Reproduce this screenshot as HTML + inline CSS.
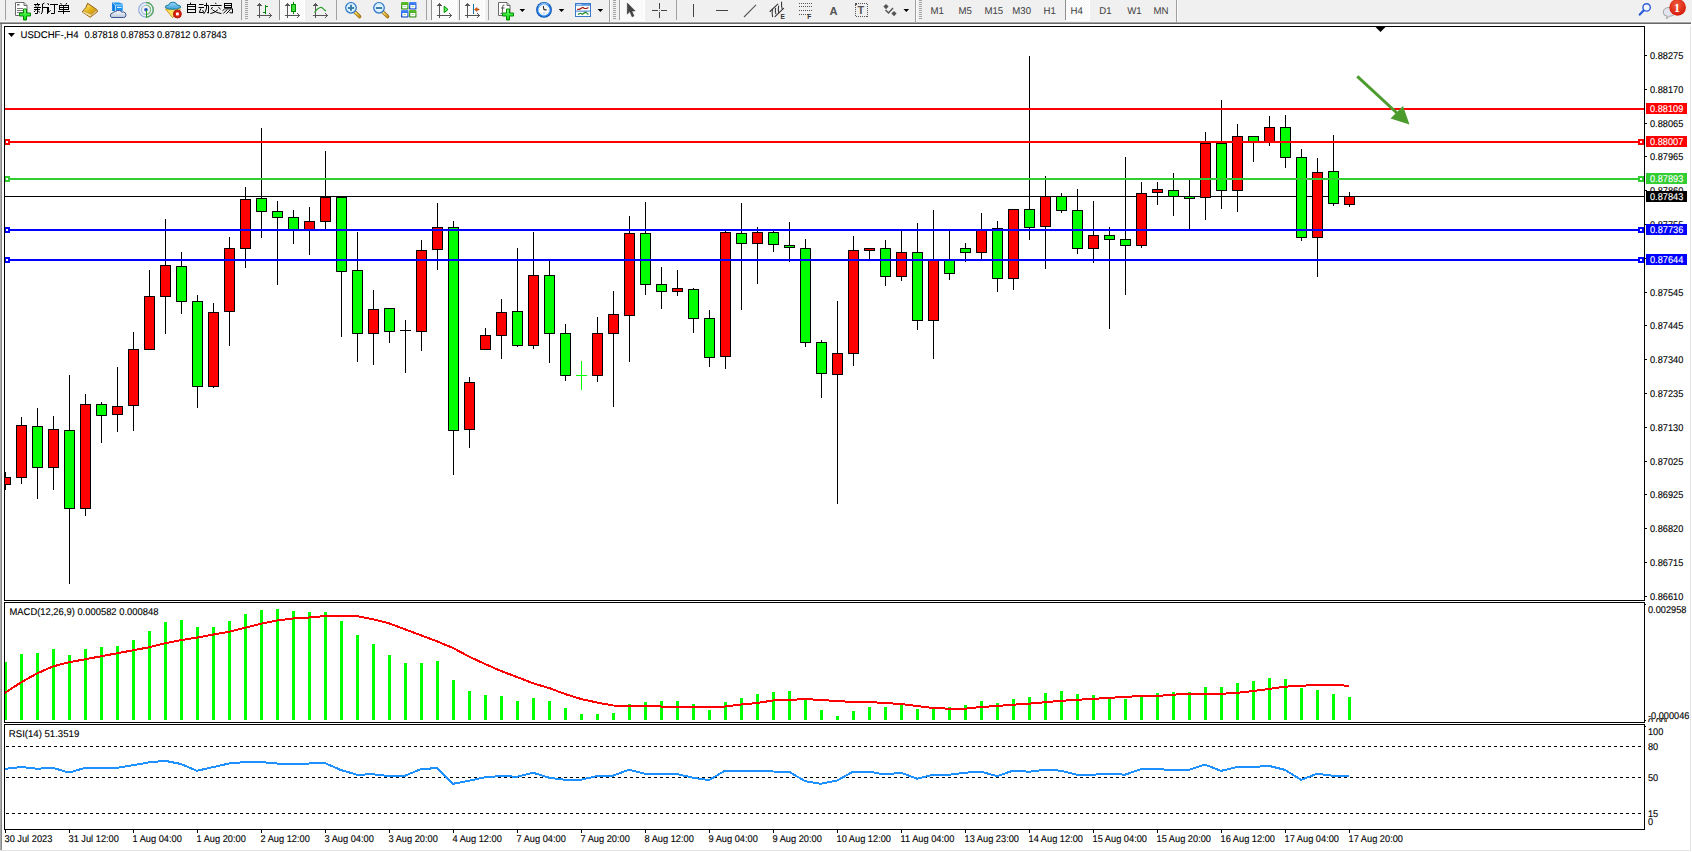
<!DOCTYPE html>
<html><head><meta charset="utf-8"><title>USDCHF H4</title>
<style>
html,body{margin:0;padding:0;}
body{width:1692px;height:852px;overflow:hidden;background:#fff;position:relative;font-family:"Liberation Sans",sans-serif;}
svg{position:absolute;left:0;top:0;display:block;}
.t{font-family:"Liberation Sans",sans-serif;stroke-width:0.12px;text-rendering:geometricPrecision;}
</style></head><body>

<svg width="1692" height="852" viewBox="0 0 1692 852">
<defs>
<clipPath id="cpMain"><rect x="5" y="27" width="1639" height="573"/></clipPath>
<clipPath id="cpMacd"><rect x="5" y="603" width="1639" height="119"/></clipPath>
<clipPath id="cpRsi"><rect x="5" y="725" width="1639" height="104"/></clipPath>
</defs>
<g shape-rendering="crispEdges">
<rect x="0" y="0" width="1692" height="852" fill="#ffffff"/>
<rect x="0" y="22" width="1" height="829" fill="#ababab"/>
<rect x="1" y="22" width="1" height="829" fill="#878787"/>
<rect x="0" y="850" width="1691" height="1" fill="#e3e3e3"/>
<rect x="1690" y="24" width="1" height="827" fill="#e3e3e3"/>
<rect x="4.5" y="26.5" width="1640" height="574" fill="none" stroke="#000" stroke-width="1"/>
<rect x="4.5" y="602.5" width="1640" height="120" fill="none" stroke="#000" stroke-width="1"/>
<rect x="4.5" y="724.5" width="1640" height="105" fill="none" stroke="#000" stroke-width="1"/>
</g>
<g clip-path="url(#cpMain)" shape-rendering="crispEdges">
<rect x="5" y="196" width="1639" height="1" fill="#000"/>
<rect x="5" y="472" width="1" height="18" fill="#000"/>
<rect x="0" y="477" width="11" height="8" fill="#000"/>
<rect x="1" y="478" width="9" height="6" fill="#ff0000"/>
<rect x="21" y="417" width="1" height="67" fill="#000"/>
<rect x="16" y="425" width="11" height="53" fill="#000"/>
<rect x="17" y="426" width="9" height="51" fill="#ff0000"/>
<rect x="37" y="408" width="1" height="91" fill="#000"/>
<rect x="32" y="426" width="11" height="42" fill="#000"/>
<rect x="33" y="427" width="9" height="40" fill="#00ff00"/>
<rect x="53" y="416" width="1" height="74" fill="#000"/>
<rect x="48" y="429" width="11" height="39" fill="#000"/>
<rect x="49" y="430" width="9" height="37" fill="#ff0000"/>
<rect x="69" y="375" width="1" height="209" fill="#000"/>
<rect x="64" y="430" width="11" height="79" fill="#000"/>
<rect x="65" y="431" width="9" height="77" fill="#00ff00"/>
<rect x="85" y="394" width="1" height="122" fill="#000"/>
<rect x="80" y="404" width="11" height="105" fill="#000"/>
<rect x="81" y="405" width="9" height="103" fill="#ff0000"/>
<rect x="101" y="402" width="1" height="41" fill="#000"/>
<rect x="96" y="404" width="11" height="12" fill="#000"/>
<rect x="97" y="405" width="9" height="10" fill="#00ff00"/>
<rect x="117" y="367" width="1" height="65" fill="#000"/>
<rect x="112" y="406" width="11" height="9" fill="#000"/>
<rect x="113" y="407" width="9" height="7" fill="#ff0000"/>
<rect x="133" y="332" width="1" height="99" fill="#000"/>
<rect x="128" y="349" width="11" height="57" fill="#000"/>
<rect x="129" y="350" width="9" height="55" fill="#ff0000"/>
<rect x="149" y="270" width="1" height="80" fill="#000"/>
<rect x="144" y="296" width="11" height="54" fill="#000"/>
<rect x="145" y="297" width="9" height="52" fill="#ff0000"/>
<rect x="165" y="219" width="1" height="115" fill="#000"/>
<rect x="160" y="265" width="11" height="32" fill="#000"/>
<rect x="161" y="266" width="9" height="30" fill="#ff0000"/>
<rect x="181" y="252" width="1" height="62" fill="#000"/>
<rect x="176" y="266" width="11" height="36" fill="#000"/>
<rect x="177" y="267" width="9" height="34" fill="#00ff00"/>
<rect x="197" y="295" width="1" height="113" fill="#000"/>
<rect x="192" y="301" width="11" height="86" fill="#000"/>
<rect x="193" y="302" width="9" height="84" fill="#00ff00"/>
<rect x="213" y="303" width="1" height="85" fill="#000"/>
<rect x="208" y="312" width="11" height="75" fill="#000"/>
<rect x="209" y="313" width="9" height="73" fill="#ff0000"/>
<rect x="229" y="237" width="1" height="109" fill="#000"/>
<rect x="224" y="248" width="11" height="64" fill="#000"/>
<rect x="225" y="249" width="9" height="62" fill="#ff0000"/>
<rect x="245" y="187" width="1" height="81" fill="#000"/>
<rect x="240" y="199" width="11" height="50" fill="#000"/>
<rect x="241" y="200" width="9" height="48" fill="#ff0000"/>
<rect x="261" y="128" width="1" height="110" fill="#000"/>
<rect x="256" y="198" width="11" height="14" fill="#000"/>
<rect x="257" y="199" width="9" height="12" fill="#00ff00"/>
<rect x="277" y="201" width="1" height="84" fill="#000"/>
<rect x="272" y="211" width="11" height="7" fill="#000"/>
<rect x="273" y="212" width="9" height="5" fill="#00ff00"/>
<rect x="293" y="210" width="1" height="34" fill="#000"/>
<rect x="288" y="217" width="11" height="13" fill="#000"/>
<rect x="289" y="218" width="9" height="11" fill="#00ff00"/>
<rect x="309" y="207" width="1" height="48" fill="#000"/>
<rect x="304" y="221" width="11" height="9" fill="#000"/>
<rect x="305" y="222" width="9" height="7" fill="#ff0000"/>
<rect x="325" y="151" width="1" height="78" fill="#000"/>
<rect x="320" y="197" width="11" height="25" fill="#000"/>
<rect x="321" y="198" width="9" height="23" fill="#ff0000"/>
<rect x="341" y="196" width="1" height="141" fill="#000"/>
<rect x="336" y="197" width="11" height="75" fill="#000"/>
<rect x="337" y="198" width="9" height="73" fill="#00ff00"/>
<rect x="357" y="232" width="1" height="130" fill="#000"/>
<rect x="352" y="270" width="11" height="64" fill="#000"/>
<rect x="353" y="271" width="9" height="62" fill="#00ff00"/>
<rect x="373" y="290" width="1" height="75" fill="#000"/>
<rect x="368" y="309" width="11" height="25" fill="#000"/>
<rect x="369" y="310" width="9" height="23" fill="#ff0000"/>
<rect x="389" y="308" width="1" height="35" fill="#000"/>
<rect x="384" y="308" width="11" height="24" fill="#000"/>
<rect x="385" y="309" width="9" height="22" fill="#00ff00"/>
<rect x="405" y="320" width="1" height="53" fill="#000"/>
<rect x="400" y="330" width="11" height="1" fill="#000"/>
<rect x="421" y="240" width="1" height="111" fill="#000"/>
<rect x="416" y="250" width="11" height="82" fill="#000"/>
<rect x="417" y="251" width="9" height="80" fill="#ff0000"/>
<rect x="437" y="203" width="1" height="67" fill="#000"/>
<rect x="432" y="227" width="11" height="23" fill="#000"/>
<rect x="433" y="228" width="9" height="21" fill="#ff0000"/>
<rect x="453" y="221" width="1" height="254" fill="#000"/>
<rect x="448" y="227" width="11" height="204" fill="#000"/>
<rect x="449" y="228" width="9" height="202" fill="#00ff00"/>
<rect x="469" y="377" width="1" height="71" fill="#000"/>
<rect x="464" y="382" width="11" height="48" fill="#000"/>
<rect x="465" y="383" width="9" height="46" fill="#ff0000"/>
<rect x="485" y="328" width="1" height="22" fill="#000"/>
<rect x="480" y="335" width="11" height="15" fill="#000"/>
<rect x="481" y="336" width="9" height="13" fill="#ff0000"/>
<rect x="501" y="299" width="1" height="60" fill="#000"/>
<rect x="496" y="312" width="11" height="24" fill="#000"/>
<rect x="497" y="313" width="9" height="22" fill="#ff0000"/>
<rect x="517" y="248" width="1" height="99" fill="#000"/>
<rect x="512" y="311" width="11" height="35" fill="#000"/>
<rect x="513" y="312" width="9" height="33" fill="#00ff00"/>
<rect x="533" y="232" width="1" height="117" fill="#000"/>
<rect x="528" y="275" width="11" height="71" fill="#000"/>
<rect x="529" y="276" width="9" height="69" fill="#ff0000"/>
<rect x="549" y="261" width="1" height="102" fill="#000"/>
<rect x="544" y="275" width="11" height="59" fill="#000"/>
<rect x="545" y="276" width="9" height="57" fill="#00ff00"/>
<rect x="565" y="324" width="1" height="57" fill="#000"/>
<rect x="560" y="333" width="11" height="43" fill="#000"/>
<rect x="561" y="334" width="9" height="41" fill="#00ff00"/>
<rect x="581" y="361" width="1" height="29" fill="#000"/>
<rect x="581" y="361" width="1" height="29" fill="#00ff00"/>
<rect x="576" y="375" width="11" height="1" fill="#00ff00"/>
<rect x="597" y="317" width="1" height="65" fill="#000"/>
<rect x="592" y="333" width="11" height="43" fill="#000"/>
<rect x="593" y="334" width="9" height="41" fill="#ff0000"/>
<rect x="613" y="291" width="1" height="116" fill="#000"/>
<rect x="608" y="314" width="11" height="20" fill="#000"/>
<rect x="609" y="315" width="9" height="18" fill="#ff0000"/>
<rect x="629" y="216" width="1" height="146" fill="#000"/>
<rect x="624" y="233" width="11" height="83" fill="#000"/>
<rect x="625" y="234" width="9" height="81" fill="#ff0000"/>
<rect x="645" y="202" width="1" height="93" fill="#000"/>
<rect x="640" y="233" width="11" height="52" fill="#000"/>
<rect x="641" y="234" width="9" height="50" fill="#00ff00"/>
<rect x="661" y="267" width="1" height="42" fill="#000"/>
<rect x="656" y="284" width="11" height="8" fill="#000"/>
<rect x="657" y="285" width="9" height="6" fill="#00ff00"/>
<rect x="677" y="270" width="1" height="26" fill="#000"/>
<rect x="672" y="288" width="11" height="4" fill="#000"/>
<rect x="673" y="289" width="9" height="2" fill="#ff0000"/>
<rect x="693" y="288" width="1" height="45" fill="#000"/>
<rect x="688" y="289" width="11" height="30" fill="#000"/>
<rect x="689" y="290" width="9" height="28" fill="#00ff00"/>
<rect x="709" y="310" width="1" height="57" fill="#000"/>
<rect x="704" y="318" width="11" height="40" fill="#000"/>
<rect x="705" y="319" width="9" height="38" fill="#00ff00"/>
<rect x="725" y="231" width="1" height="138" fill="#000"/>
<rect x="720" y="232" width="11" height="125" fill="#000"/>
<rect x="721" y="233" width="9" height="123" fill="#ff0000"/>
<rect x="741" y="203" width="1" height="107" fill="#000"/>
<rect x="736" y="233" width="11" height="11" fill="#000"/>
<rect x="737" y="234" width="9" height="9" fill="#00ff00"/>
<rect x="757" y="227" width="1" height="57" fill="#000"/>
<rect x="752" y="232" width="11" height="12" fill="#000"/>
<rect x="753" y="233" width="9" height="10" fill="#ff0000"/>
<rect x="773" y="231" width="1" height="21" fill="#000"/>
<rect x="768" y="232" width="11" height="13" fill="#000"/>
<rect x="769" y="233" width="9" height="11" fill="#00ff00"/>
<rect x="789" y="222" width="1" height="40" fill="#000"/>
<rect x="784" y="245" width="11" height="3" fill="#000"/>
<rect x="785" y="246" width="9" height="1" fill="#00ff00"/>
<rect x="805" y="239" width="1" height="108" fill="#000"/>
<rect x="800" y="248" width="11" height="95" fill="#000"/>
<rect x="801" y="249" width="9" height="93" fill="#00ff00"/>
<rect x="821" y="340" width="1" height="58" fill="#000"/>
<rect x="816" y="342" width="11" height="32" fill="#000"/>
<rect x="817" y="343" width="9" height="30" fill="#00ff00"/>
<rect x="837" y="301" width="1" height="203" fill="#000"/>
<rect x="832" y="353" width="11" height="22" fill="#000"/>
<rect x="833" y="354" width="9" height="20" fill="#ff0000"/>
<rect x="853" y="236" width="1" height="130" fill="#000"/>
<rect x="848" y="250" width="11" height="104" fill="#000"/>
<rect x="849" y="251" width="9" height="102" fill="#ff0000"/>
<rect x="869" y="248" width="1" height="11" fill="#000"/>
<rect x="864" y="248" width="11" height="3" fill="#000"/>
<rect x="865" y="249" width="9" height="1" fill="#ff0000"/>
<rect x="885" y="240" width="1" height="46" fill="#000"/>
<rect x="880" y="248" width="11" height="29" fill="#000"/>
<rect x="881" y="249" width="9" height="27" fill="#00ff00"/>
<rect x="901" y="231" width="1" height="50" fill="#000"/>
<rect x="896" y="252" width="11" height="25" fill="#000"/>
<rect x="897" y="253" width="9" height="23" fill="#ff0000"/>
<rect x="917" y="223" width="1" height="107" fill="#000"/>
<rect x="912" y="252" width="11" height="69" fill="#000"/>
<rect x="913" y="253" width="9" height="67" fill="#00ff00"/>
<rect x="933" y="210" width="1" height="149" fill="#000"/>
<rect x="928" y="260" width="11" height="61" fill="#000"/>
<rect x="929" y="261" width="9" height="59" fill="#ff0000"/>
<rect x="949" y="231" width="1" height="49" fill="#000"/>
<rect x="944" y="260" width="11" height="14" fill="#000"/>
<rect x="945" y="261" width="9" height="12" fill="#00ff00"/>
<rect x="965" y="243" width="1" height="19" fill="#000"/>
<rect x="960" y="248" width="11" height="5" fill="#000"/>
<rect x="961" y="249" width="9" height="3" fill="#00ff00"/>
<rect x="981" y="213" width="1" height="46" fill="#000"/>
<rect x="976" y="230" width="11" height="23" fill="#000"/>
<rect x="977" y="231" width="9" height="21" fill="#ff0000"/>
<rect x="997" y="221" width="1" height="71" fill="#000"/>
<rect x="992" y="228" width="11" height="51" fill="#000"/>
<rect x="993" y="229" width="9" height="49" fill="#00ff00"/>
<rect x="1013" y="209" width="1" height="81" fill="#000"/>
<rect x="1008" y="209" width="11" height="70" fill="#000"/>
<rect x="1009" y="210" width="9" height="68" fill="#ff0000"/>
<rect x="1029" y="56" width="1" height="184" fill="#000"/>
<rect x="1024" y="209" width="11" height="19" fill="#000"/>
<rect x="1025" y="210" width="9" height="17" fill="#00ff00"/>
<rect x="1045" y="176" width="1" height="93" fill="#000"/>
<rect x="1040" y="196" width="11" height="31" fill="#000"/>
<rect x="1041" y="197" width="9" height="29" fill="#ff0000"/>
<rect x="1061" y="193" width="1" height="20" fill="#000"/>
<rect x="1056" y="196" width="11" height="15" fill="#000"/>
<rect x="1057" y="197" width="9" height="13" fill="#00ff00"/>
<rect x="1077" y="189" width="1" height="65" fill="#000"/>
<rect x="1072" y="210" width="11" height="39" fill="#000"/>
<rect x="1073" y="211" width="9" height="37" fill="#00ff00"/>
<rect x="1093" y="201" width="1" height="62" fill="#000"/>
<rect x="1088" y="235" width="11" height="14" fill="#000"/>
<rect x="1089" y="236" width="9" height="12" fill="#ff0000"/>
<rect x="1109" y="227" width="1" height="102" fill="#000"/>
<rect x="1104" y="235" width="11" height="5" fill="#000"/>
<rect x="1105" y="236" width="9" height="3" fill="#00ff00"/>
<rect x="1125" y="157" width="1" height="138" fill="#000"/>
<rect x="1120" y="239" width="11" height="7" fill="#000"/>
<rect x="1121" y="240" width="9" height="5" fill="#00ff00"/>
<rect x="1141" y="182" width="1" height="66" fill="#000"/>
<rect x="1136" y="193" width="11" height="53" fill="#000"/>
<rect x="1137" y="194" width="9" height="51" fill="#ff0000"/>
<rect x="1157" y="182" width="1" height="23" fill="#000"/>
<rect x="1152" y="189" width="11" height="4" fill="#000"/>
<rect x="1153" y="190" width="9" height="2" fill="#ff0000"/>
<rect x="1173" y="173" width="1" height="43" fill="#000"/>
<rect x="1168" y="190" width="11" height="7" fill="#000"/>
<rect x="1169" y="191" width="9" height="5" fill="#00ff00"/>
<rect x="1189" y="180" width="1" height="49" fill="#000"/>
<rect x="1184" y="196" width="11" height="3" fill="#000"/>
<rect x="1185" y="197" width="9" height="1" fill="#00ff00"/>
<rect x="1205" y="132" width="1" height="88" fill="#000"/>
<rect x="1200" y="143" width="11" height="55" fill="#000"/>
<rect x="1201" y="144" width="9" height="53" fill="#ff0000"/>
<rect x="1221" y="100" width="1" height="109" fill="#000"/>
<rect x="1216" y="143" width="11" height="48" fill="#000"/>
<rect x="1217" y="144" width="9" height="46" fill="#00ff00"/>
<rect x="1237" y="124" width="1" height="88" fill="#000"/>
<rect x="1232" y="136" width="11" height="55" fill="#000"/>
<rect x="1233" y="137" width="9" height="53" fill="#ff0000"/>
<rect x="1253" y="136" width="1" height="26" fill="#000"/>
<rect x="1248" y="136" width="11" height="6" fill="#000"/>
<rect x="1249" y="137" width="9" height="4" fill="#00ff00"/>
<rect x="1269" y="116" width="1" height="30" fill="#000"/>
<rect x="1264" y="127" width="11" height="15" fill="#000"/>
<rect x="1265" y="128" width="9" height="13" fill="#ff0000"/>
<rect x="1285" y="115" width="1" height="53" fill="#000"/>
<rect x="1280" y="127" width="11" height="31" fill="#000"/>
<rect x="1281" y="128" width="9" height="29" fill="#00ff00"/>
<rect x="1301" y="149" width="1" height="92" fill="#000"/>
<rect x="1296" y="157" width="11" height="81" fill="#000"/>
<rect x="1297" y="158" width="9" height="79" fill="#00ff00"/>
<rect x="1317" y="158" width="1" height="119" fill="#000"/>
<rect x="1312" y="172" width="11" height="66" fill="#000"/>
<rect x="1313" y="173" width="9" height="64" fill="#ff0000"/>
<rect x="1333" y="135" width="1" height="71" fill="#000"/>
<rect x="1328" y="171" width="11" height="33" fill="#000"/>
<rect x="1329" y="172" width="9" height="31" fill="#00ff00"/>
<rect x="1349" y="192" width="1" height="15" fill="#000"/>
<rect x="1344" y="196" width="11" height="9" fill="#000"/>
<rect x="1345" y="197" width="9" height="7" fill="#ff0000"/>
<rect x="5" y="108" width="1639" height="2" fill="#ff0000"/>
<rect x="5" y="141" width="1639" height="2" fill="#ff0000"/>
<rect x="4" y="139" width="6" height="6" fill="#ff0000"/>
<rect x="6" y="141" width="2" height="2" fill="#fff"/>
<rect x="1638" y="139" width="6" height="6" fill="#ff0000"/>
<rect x="1640" y="141" width="2" height="2" fill="#fff"/>
<rect x="5" y="178" width="1639" height="2" fill="#32cd32"/>
<rect x="4" y="176" width="6" height="6" fill="#32cd32"/>
<rect x="6" y="178" width="2" height="2" fill="#fff"/>
<rect x="1638" y="176" width="6" height="6" fill="#32cd32"/>
<rect x="1640" y="178" width="2" height="2" fill="#fff"/>
<rect x="5" y="229" width="1639" height="2" fill="#0000ff"/>
<rect x="4" y="227" width="6" height="6" fill="#0000ff"/>
<rect x="6" y="229" width="2" height="2" fill="#fff"/>
<rect x="1638" y="227" width="6" height="6" fill="#0000ff"/>
<rect x="1640" y="229" width="2" height="2" fill="#fff"/>
<rect x="5" y="259" width="1639" height="2" fill="#0000ff"/>
<rect x="4" y="257" width="6" height="6" fill="#0000ff"/>
<rect x="6" y="259" width="2" height="2" fill="#fff"/>
<rect x="1638" y="257" width="6" height="6" fill="#0000ff"/>
<rect x="1640" y="259" width="2" height="2" fill="#fff"/>
</g>
<rect x="4" y="26" width="1" height="575" fill="#000" shape-rendering="crispEdges"/>
<rect x="1644" y="26" width="1" height="575" fill="#000" shape-rendering="crispEdges"/>
<g>
<line x1="1357.3" y1="76.4" x2="1398" y2="114" stroke="#4b9b2d" stroke-width="3" stroke-linecap="butt"/>
<polygon points="1409.5,124.5 1390.5,118.5 1403,106" fill="#4b9b2d"/>
</g>
<polygon points="1375.5,27 1385.5,27 1380.5,32" fill="#000"/>
<polygon points="8,33 15,33 11.5,37" fill="#000"/>
<text class="t" transform="translate(20.5,38) scale(0.9796,1.0)" font-size="9.8" fill="#000" stroke="#000">USDCHF-,H4</text>
<text class="t" transform="translate(84.5,38) scale(0.9490,1.0)" font-size="9.8" fill="#000" stroke="#000">0.87818 0.87853 0.87812 0.87843</text>
<g shape-rendering="crispEdges">
<rect x="1645" y="55" width="2" height="1" fill="#000"/>
<rect x="1645" y="89" width="2" height="1" fill="#000"/>
<rect x="1645" y="123" width="2" height="1" fill="#000"/>
<rect x="1645" y="156" width="2" height="1" fill="#000"/>
<rect x="1645" y="190" width="2" height="1" fill="#000"/>
<rect x="1645" y="224" width="2" height="1" fill="#000"/>
<rect x="1645" y="258" width="2" height="1" fill="#000"/>
<rect x="1645" y="292" width="2" height="1" fill="#000"/>
<rect x="1645" y="325" width="2" height="1" fill="#000"/>
<rect x="1645" y="359" width="2" height="1" fill="#000"/>
<rect x="1645" y="393" width="2" height="1" fill="#000"/>
<rect x="1645" y="427" width="2" height="1" fill="#000"/>
<rect x="1645" y="461" width="2" height="1" fill="#000"/>
<rect x="1645" y="494" width="2" height="1" fill="#000"/>
<rect x="1645" y="528" width="2" height="1" fill="#000"/>
<rect x="1645" y="562" width="2" height="1" fill="#000"/>
<rect x="1645" y="596" width="2" height="1" fill="#000"/>
</g>
<text class="t" transform="translate(1650,59) scale(0.9388,1.0)" font-size="9.8" fill="#000" stroke="#000">0.88275</text>
<text class="t" transform="translate(1650,93) scale(0.9388,1.0)" font-size="9.8" fill="#000" stroke="#000">0.88170</text>
<text class="t" transform="translate(1650,127) scale(0.9388,1.0)" font-size="9.8" fill="#000" stroke="#000">0.88065</text>
<text class="t" transform="translate(1650,160) scale(0.9388,1.0)" font-size="9.8" fill="#000" stroke="#000">0.87965</text>
<text class="t" transform="translate(1650,194) scale(0.9388,1.0)" font-size="9.8" fill="#000" stroke="#000">0.87860</text>
<text class="t" transform="translate(1650,228) scale(0.9388,1.0)" font-size="9.8" fill="#000" stroke="#000">0.87755</text>
<text class="t" transform="translate(1650,262) scale(0.9388,1.0)" font-size="9.8" fill="#000" stroke="#000">0.87650</text>
<text class="t" transform="translate(1650,296) scale(0.9388,1.0)" font-size="9.8" fill="#000" stroke="#000">0.87545</text>
<text class="t" transform="translate(1650,329) scale(0.9388,1.0)" font-size="9.8" fill="#000" stroke="#000">0.87445</text>
<text class="t" transform="translate(1650,363) scale(0.9388,1.0)" font-size="9.8" fill="#000" stroke="#000">0.87340</text>
<text class="t" transform="translate(1650,397) scale(0.9388,1.0)" font-size="9.8" fill="#000" stroke="#000">0.87235</text>
<text class="t" transform="translate(1650,431) scale(0.9388,1.0)" font-size="9.8" fill="#000" stroke="#000">0.87130</text>
<text class="t" transform="translate(1650,465) scale(0.9388,1.0)" font-size="9.8" fill="#000" stroke="#000">0.87025</text>
<text class="t" transform="translate(1650,498) scale(0.9388,1.0)" font-size="9.8" fill="#000" stroke="#000">0.86925</text>
<text class="t" transform="translate(1650,532) scale(0.9388,1.0)" font-size="9.8" fill="#000" stroke="#000">0.86820</text>
<text class="t" transform="translate(1650,566) scale(0.9388,1.0)" font-size="9.8" fill="#000" stroke="#000">0.86715</text>
<text class="t" transform="translate(1650,600) scale(0.9388,1.0)" font-size="9.8" fill="#000" stroke="#000">0.86610</text>
<rect x="1646" y="103" width="41" height="11" fill="#ff0000" shape-rendering="crispEdges"/>
<text class="t" transform="translate(1650,112) scale(0.9388,1.0)" font-size="9.8" fill="#fff" stroke="#fff">0.88109</text>
<rect x="1646" y="136" width="41" height="11" fill="#ff0000" shape-rendering="crispEdges"/>
<text class="t" transform="translate(1650,145) scale(0.9388,1.0)" font-size="9.8" fill="#fff" stroke="#fff">0.88007</text>
<rect x="1646" y="173" width="41" height="11" fill="#32cd32" shape-rendering="crispEdges"/>
<text class="t" transform="translate(1650,182) scale(0.9388,1.0)" font-size="9.8" fill="#fff" stroke="#fff">0.87893</text>
<rect x="1646" y="191" width="41" height="11" fill="#000000" shape-rendering="crispEdges"/>
<text class="t" transform="translate(1650,200) scale(0.9388,1.0)" font-size="9.8" fill="#fff" stroke="#fff">0.87843</text>
<rect x="1646" y="224" width="41" height="11" fill="#0000ff" shape-rendering="crispEdges"/>
<text class="t" transform="translate(1650,233) scale(0.9388,1.0)" font-size="9.8" fill="#fff" stroke="#fff">0.87736</text>
<rect x="1646" y="254" width="41" height="11" fill="#0000ff" shape-rendering="crispEdges"/>
<text class="t" transform="translate(1650,263) scale(0.9388,1.0)" font-size="9.8" fill="#fff" stroke="#fff">0.87644</text>
<g clip-path="url(#cpMacd)" shape-rendering="crispEdges">
<rect x="4" y="662" width="3" height="58" fill="#00ff00"/>
<rect x="20" y="654" width="3" height="66" fill="#00ff00"/>
<rect x="36" y="653" width="3" height="67" fill="#00ff00"/>
<rect x="52" y="649" width="3" height="71" fill="#00ff00"/>
<rect x="68" y="655" width="3" height="65" fill="#00ff00"/>
<rect x="84" y="649" width="3" height="71" fill="#00ff00"/>
<rect x="100" y="647" width="3" height="73" fill="#00ff00"/>
<rect x="116" y="646" width="3" height="74" fill="#00ff00"/>
<rect x="132" y="640" width="3" height="80" fill="#00ff00"/>
<rect x="148" y="631" width="3" height="89" fill="#00ff00"/>
<rect x="164" y="622" width="3" height="98" fill="#00ff00"/>
<rect x="180" y="620" width="3" height="100" fill="#00ff00"/>
<rect x="196" y="627" width="3" height="93" fill="#00ff00"/>
<rect x="212" y="627" width="3" height="93" fill="#00ff00"/>
<rect x="228" y="621" width="3" height="99" fill="#00ff00"/>
<rect x="244" y="614" width="3" height="106" fill="#00ff00"/>
<rect x="260" y="610" width="3" height="110" fill="#00ff00"/>
<rect x="276" y="609" width="3" height="111" fill="#00ff00"/>
<rect x="292" y="611" width="3" height="109" fill="#00ff00"/>
<rect x="308" y="612" width="3" height="108" fill="#00ff00"/>
<rect x="324" y="612" width="3" height="108" fill="#00ff00"/>
<rect x="340" y="621" width="3" height="99" fill="#00ff00"/>
<rect x="356" y="635" width="3" height="85" fill="#00ff00"/>
<rect x="372" y="644" width="3" height="76" fill="#00ff00"/>
<rect x="388" y="655" width="3" height="65" fill="#00ff00"/>
<rect x="404" y="663" width="3" height="57" fill="#00ff00"/>
<rect x="420" y="663" width="3" height="57" fill="#00ff00"/>
<rect x="436" y="661" width="3" height="59" fill="#00ff00"/>
<rect x="452" y="680" width="3" height="40" fill="#00ff00"/>
<rect x="468" y="691" width="3" height="29" fill="#00ff00"/>
<rect x="484" y="695" width="3" height="25" fill="#00ff00"/>
<rect x="500" y="696" width="3" height="24" fill="#00ff00"/>
<rect x="516" y="701" width="3" height="19" fill="#00ff00"/>
<rect x="532" y="698" width="3" height="22" fill="#00ff00"/>
<rect x="548" y="701" width="3" height="19" fill="#00ff00"/>
<rect x="564" y="708" width="3" height="12" fill="#00ff00"/>
<rect x="580" y="714" width="3" height="6" fill="#00ff00"/>
<rect x="596" y="714" width="3" height="6" fill="#00ff00"/>
<rect x="612" y="713" width="3" height="7" fill="#00ff00"/>
<rect x="628" y="704" width="3" height="16" fill="#00ff00"/>
<rect x="644" y="702" width="3" height="18" fill="#00ff00"/>
<rect x="660" y="701" width="3" height="19" fill="#00ff00"/>
<rect x="676" y="701" width="3" height="19" fill="#00ff00"/>
<rect x="692" y="704" width="3" height="16" fill="#00ff00"/>
<rect x="708" y="710" width="3" height="10" fill="#00ff00"/>
<rect x="724" y="702" width="3" height="18" fill="#00ff00"/>
<rect x="740" y="698" width="3" height="22" fill="#00ff00"/>
<rect x="756" y="694" width="3" height="26" fill="#00ff00"/>
<rect x="772" y="692" width="3" height="28" fill="#00ff00"/>
<rect x="788" y="691" width="3" height="29" fill="#00ff00"/>
<rect x="804" y="700" width="3" height="20" fill="#00ff00"/>
<rect x="820" y="710" width="3" height="10" fill="#00ff00"/>
<rect x="836" y="716" width="3" height="4" fill="#00ff00"/>
<rect x="852" y="711" width="3" height="9" fill="#00ff00"/>
<rect x="868" y="707" width="3" height="13" fill="#00ff00"/>
<rect x="884" y="707" width="3" height="13" fill="#00ff00"/>
<rect x="900" y="705" width="3" height="15" fill="#00ff00"/>
<rect x="916" y="709" width="3" height="11" fill="#00ff00"/>
<rect x="932" y="709" width="3" height="11" fill="#00ff00"/>
<rect x="948" y="707" width="3" height="13" fill="#00ff00"/>
<rect x="964" y="705" width="3" height="15" fill="#00ff00"/>
<rect x="980" y="701" width="3" height="19" fill="#00ff00"/>
<rect x="996" y="703" width="3" height="17" fill="#00ff00"/>
<rect x="1012" y="699" width="3" height="21" fill="#00ff00"/>
<rect x="1028" y="697" width="3" height="23" fill="#00ff00"/>
<rect x="1044" y="693" width="3" height="27" fill="#00ff00"/>
<rect x="1060" y="691" width="3" height="29" fill="#00ff00"/>
<rect x="1076" y="694" width="3" height="26" fill="#00ff00"/>
<rect x="1092" y="695" width="3" height="25" fill="#00ff00"/>
<rect x="1108" y="697" width="3" height="23" fill="#00ff00"/>
<rect x="1124" y="699" width="3" height="21" fill="#00ff00"/>
<rect x="1140" y="696" width="3" height="24" fill="#00ff00"/>
<rect x="1156" y="693" width="3" height="27" fill="#00ff00"/>
<rect x="1172" y="692" width="3" height="28" fill="#00ff00"/>
<rect x="1188" y="692" width="3" height="28" fill="#00ff00"/>
<rect x="1204" y="687" width="3" height="33" fill="#00ff00"/>
<rect x="1220" y="687" width="3" height="33" fill="#00ff00"/>
<rect x="1236" y="683" width="3" height="37" fill="#00ff00"/>
<rect x="1252" y="681" width="3" height="39" fill="#00ff00"/>
<rect x="1268" y="678" width="3" height="42" fill="#00ff00"/>
<rect x="1284" y="679" width="3" height="41" fill="#00ff00"/>
<rect x="1300" y="688" width="3" height="32" fill="#00ff00"/>
<rect x="1316" y="690" width="3" height="30" fill="#00ff00"/>
<rect x="1332" y="694" width="3" height="26" fill="#00ff00"/>
<rect x="1348" y="697" width="3" height="23" fill="#00ff00"/>
</g>
<g clip-path="url(#cpMacd)"><polyline points="4,693.5 21,682.4 37,673.4 53,666.4 69,662.3 85,659.3 101,656.3 117,653.3 133,650.3 149,647.3 165,643.3 181,640.2 197,637.6 213,634.6 229,631.8 245,627.8 261,623.8 277,620.5 293,618.5 309,617.5 325,616.1 341,615.7 357,616.1 373,619.3 389,623.3 405,629.3 421,635.3 437,641.3 453,648 469,656.5 485,664 501,671 517,677 533,683.3 549,688 565,694 581,699 597,702.5 613,705.5 629,705.7 645,705.7 661,706.5 677,706.5 693,706.5 709,706.5 725,706.5 741,704.5 757,703 773,700.5 789,700 805,699 821,700 837,701 853,702 869,702 885,703 901,704 917,706 933,708 949,708.7 965,708.7 981,707 997,706 1013,704.7 1029,703.7 1045,702.2 1061,700.8 1077,699.8 1093,698.9 1109,697.9 1125,696.9 1141,696 1157,696 1173,694.7 1189,693.8 1205,693.8 1221,693.8 1237,692.8 1253,691.1 1269,688.9 1285,686.7 1301,685.8 1317,684.8 1333,684.8 1349,685.8" fill="none" stroke="#ff0000" stroke-width="2" stroke-linejoin="round" shape-rendering="crispEdges"/></g>
<text class="t" transform="translate(9.5,615) scale(0.9592,1.0)" font-size="9.8" fill="#000" stroke="#000">MACD(12,26,9) 0.000582 0.000848</text>
<rect x="1645" y="604" width="1" height="1" fill="#000"/>
<rect x="1645" y="720" width="1" height="1" fill="#000"/>
<text class="t" transform="translate(1648,613) scale(0.9388,1.0)" font-size="9.8" fill="#000" stroke="#000">0.002958</text>
<svg x="1645" y="715" width="22" height="7"><text class="t" transform="translate(3,10) scale(0.9388,1.0)" font-size="9.8" fill="#000" stroke="#000">0.000000</text></svg>
<text class="t" transform="translate(1648,719) scale(0.9388,1.0)" font-size="9.8" fill="#000" stroke="#000">-0.000046</text>
<g shape-rendering="crispEdges">
<line x1="6" y1="746.5" x2="1644" y2="746.5" stroke="#000" stroke-width="1" stroke-dasharray="3,3"/>
<line x1="6" y1="777.5" x2="1644" y2="777.5" stroke="#000" stroke-width="1" stroke-dasharray="3,3"/>
<line x1="6" y1="813.5" x2="1644" y2="813.5" stroke="#000" stroke-width="1" stroke-dasharray="3,3"/>
</g>
<g clip-path="url(#cpRsi)"><polyline points="4,769 5,768.9 21,767 37,768.7 53,767.9 69,772.6 85,767.9 101,767.9 117,767.9 133,765.2 149,762.4 165,760.8 181,764 197,770.8 213,767.1 229,763.5 245,762.1 261,762.1 277,763.5 293,764.1 309,763.5 325,763.1 341,770.1 357,774.7 373,774.3 389,776.1 405,775.7 421,769.1 437,768.1 453,783.8 469,780.8 485,777.2 501,776.1 517,776.7 533,772.7 549,777.7 565,779.7 581,779.7 597,776.1 613,775.7 629,769.7 645,773.7 661,773.7 677,774.1 693,777.7 709,780.1 725,770.7 741,770.7 757,770.7 773,771.5 789,771.7 805,781.1 821,783.8 837,780.5 853,771.7 869,771.7 885,774.5 901,772.7 917,778.7 933,774.7 949,774.7 965,772.7 981,771.7 997,776.1 1013,770.7 1029,771.7 1045,769.7 1061,770.7 1077,774.7 1093,774.7 1109,773.7 1125,774.7 1141,769.1 1157,769.1 1173,770 1189,769.9 1205,764.6 1221,770.9 1237,767 1253,767 1269,765.9 1285,769.9 1301,779.8 1317,773.8 1333,775.8 1349,775.8" fill="none" stroke="#1e90ff" stroke-width="2" stroke-linejoin="round" shape-rendering="crispEdges"/></g>
<text class="t" transform="translate(8.8,737) scale(0.9796,1.0)" font-size="9.8" fill="#000" stroke="#000">RSI(14) 51.3519</text>
<rect x="1645" y="726" width="1" height="1" fill="#000"/>
<text class="t" transform="translate(1648,735) scale(0.9388,1.0)" font-size="9.8" fill="#000" stroke="#000">100</text>
<text class="t" transform="translate(1648,750) scale(0.9388,1.0)" font-size="9.8" fill="#000" stroke="#000">80</text>
<text class="t" transform="translate(1648,781) scale(0.9388,1.0)" font-size="9.8" fill="#000" stroke="#000">50</text>
<text class="t" transform="translate(1648,817) scale(0.9388,1.0)" font-size="9.8" fill="#000" stroke="#000">15</text>
<text class="t" transform="translate(1648,825) scale(0.9388,1.0)" font-size="9.8" fill="#000" stroke="#000">0</text>
<g shape-rendering="crispEdges">
<rect x="5" y="830" width="1" height="3" fill="#000"/>
<rect x="69" y="830" width="1" height="3" fill="#000"/>
<rect x="133" y="830" width="1" height="3" fill="#000"/>
<rect x="197" y="830" width="1" height="3" fill="#000"/>
<rect x="261" y="830" width="1" height="3" fill="#000"/>
<rect x="325" y="830" width="1" height="3" fill="#000"/>
<rect x="389" y="830" width="1" height="3" fill="#000"/>
<rect x="453" y="830" width="1" height="3" fill="#000"/>
<rect x="517" y="830" width="1" height="3" fill="#000"/>
<rect x="581" y="830" width="1" height="3" fill="#000"/>
<rect x="645" y="830" width="1" height="3" fill="#000"/>
<rect x="709" y="830" width="1" height="3" fill="#000"/>
<rect x="773" y="830" width="1" height="3" fill="#000"/>
<rect x="837" y="830" width="1" height="3" fill="#000"/>
<rect x="901" y="830" width="1" height="3" fill="#000"/>
<rect x="965" y="830" width="1" height="3" fill="#000"/>
<rect x="1029" y="830" width="1" height="3" fill="#000"/>
<rect x="1093" y="830" width="1" height="3" fill="#000"/>
<rect x="1157" y="830" width="1" height="3" fill="#000"/>
<rect x="1221" y="830" width="1" height="3" fill="#000"/>
<rect x="1285" y="830" width="1" height="3" fill="#000"/>
<rect x="1349" y="830" width="1" height="3" fill="#000"/>
</g>
<text class="t" transform="translate(4.5,842) scale(0.9439,1.0)" font-size="9.8" fill="#000" stroke="#000">30 Jul 2023</text>
<text class="t" transform="translate(68.5,842) scale(0.9439,1.0)" font-size="9.8" fill="#000" stroke="#000">31 Jul 12:00</text>
<text class="t" transform="translate(132.5,842) scale(0.9439,1.0)" font-size="9.8" fill="#000" stroke="#000">1 Aug 04:00</text>
<text class="t" transform="translate(196.5,842) scale(0.9439,1.0)" font-size="9.8" fill="#000" stroke="#000">1 Aug 20:00</text>
<text class="t" transform="translate(260.5,842) scale(0.9439,1.0)" font-size="9.8" fill="#000" stroke="#000">2 Aug 12:00</text>
<text class="t" transform="translate(324.5,842) scale(0.9439,1.0)" font-size="9.8" fill="#000" stroke="#000">3 Aug 04:00</text>
<text class="t" transform="translate(388.5,842) scale(0.9439,1.0)" font-size="9.8" fill="#000" stroke="#000">3 Aug 20:00</text>
<text class="t" transform="translate(452.5,842) scale(0.9439,1.0)" font-size="9.8" fill="#000" stroke="#000">4 Aug 12:00</text>
<text class="t" transform="translate(516.5,842) scale(0.9439,1.0)" font-size="9.8" fill="#000" stroke="#000">7 Aug 04:00</text>
<text class="t" transform="translate(580.5,842) scale(0.9439,1.0)" font-size="9.8" fill="#000" stroke="#000">7 Aug 20:00</text>
<text class="t" transform="translate(644.5,842) scale(0.9439,1.0)" font-size="9.8" fill="#000" stroke="#000">8 Aug 12:00</text>
<text class="t" transform="translate(708.5,842) scale(0.9439,1.0)" font-size="9.8" fill="#000" stroke="#000">9 Aug 04:00</text>
<text class="t" transform="translate(772.5,842) scale(0.9439,1.0)" font-size="9.8" fill="#000" stroke="#000">9 Aug 20:00</text>
<text class="t" transform="translate(836.5,842) scale(0.9439,1.0)" font-size="9.8" fill="#000" stroke="#000">10 Aug 12:00</text>
<text class="t" transform="translate(900.5,842) scale(0.9439,1.0)" font-size="9.8" fill="#000" stroke="#000">11 Aug 04:00</text>
<text class="t" transform="translate(964.5,842) scale(0.9439,1.0)" font-size="9.8" fill="#000" stroke="#000">13 Aug 23:00</text>
<text class="t" transform="translate(1028.5,842) scale(0.9439,1.0)" font-size="9.8" fill="#000" stroke="#000">14 Aug 12:00</text>
<text class="t" transform="translate(1092.5,842) scale(0.9439,1.0)" font-size="9.8" fill="#000" stroke="#000">15 Aug 04:00</text>
<text class="t" transform="translate(1156.5,842) scale(0.9439,1.0)" font-size="9.8" fill="#000" stroke="#000">15 Aug 20:00</text>
<text class="t" transform="translate(1220.5,842) scale(0.9439,1.0)" font-size="9.8" fill="#000" stroke="#000">16 Aug 12:00</text>
<text class="t" transform="translate(1284.5,842) scale(0.9439,1.0)" font-size="9.8" fill="#000" stroke="#000">17 Aug 04:00</text>
<text class="t" transform="translate(1348.5,842) scale(0.9439,1.0)" font-size="9.8" fill="#000" stroke="#000">17 Aug 20:00</text>
</svg>
<svg width="1692" height="26" viewBox="0 0 1692 26" style="position:absolute;left:0;top:0">
<defs>
<pattern id="chk" width="2" height="2" patternUnits="userSpaceOnUse"><rect width="2" height="2" fill="#f7f7f7"/><rect width="1" height="1" fill="#ffffff"/><rect x="1" y="1" width="1" height="1" fill="#ffffff"/></pattern>
<pattern id="grip" width="4" height="2" patternUnits="userSpaceOnUse"><rect width="3" height="1" fill="#a9a9a9"/></pattern>
<linearGradient id="gplus" x1="0" y1="0" x2="0" y2="1"><stop offset="0" stop-color="#7dff7d"/><stop offset="1" stop-color="#00d800"/></linearGradient>
<linearGradient id="gold" x1="0" y1="0" x2="1" y2="1"><stop offset="0" stop-color="#fff4a0"/><stop offset="0.5" stop-color="#e8b818"/><stop offset="1" stop-color="#c08a10"/></linearGradient>
<linearGradient id="cloud" x1="0" y1="0" x2="0" y2="1"><stop offset="0" stop-color="#ffffff"/><stop offset="1" stop-color="#b8c4dc"/></linearGradient>
<linearGradient id="hat" x1="0" y1="0" x2="0" y2="1"><stop offset="0" stop-color="#9ad8ff"/><stop offset="1" stop-color="#3ea0d8"/></linearGradient>
<radialGradient id="lens" cx="0.5" cy="0.5" r="0.5"><stop offset="0" stop-color="#ffffff"/><stop offset="1" stop-color="#bfe6ff"/></radialGradient>
<linearGradient id="handle" x1="0" y1="0" x2="1" y2="1"><stop offset="0" stop-color="#fff08a"/><stop offset="1" stop-color="#c99a10"/></linearGradient>
<linearGradient id="tbblue" x1="0" y1="0" x2="0" y2="1"><stop offset="0" stop-color="#4d8cff"/><stop offset="1" stop-color="#0a3fc8"/></linearGradient>
<linearGradient id="tbgreen" x1="0" y1="0" x2="0" y2="1"><stop offset="0" stop-color="#5cc22a"/><stop offset="1" stop-color="#2c8a10"/></linearGradient>
<radialGradient id="badge" cx="0.45" cy="0.35" r="0.6"><stop offset="0" stop-color="#f06040"/><stop offset="1" stop-color="#d81c0c"/></radialGradient>
</defs>
<g shape-rendering="crispEdges">
<rect x="0" y="0" width="1692" height="21" fill="#f0f0f0"/>
<rect x="0" y="21" width="1692" height="1" fill="#f5f5f5"/>
<rect x="0" y="22" width="1691" height="1" fill="#a3a3a3"/>
<rect x="0" y="23" width="1691" height="1" fill="#6a6a6a"/>
<rect x="2" y="24" width="1690" height="2" fill="#ffffff"/>
<rect x="0" y="24" width="1" height="2" fill="#ababab"/>
<rect x="1" y="24" width="1" height="2" fill="#878787"/>
<rect x="5" y="0" width="1" height="20" fill="#a0a0a0"/>
<rect x="241" y="0" width="1" height="20" fill="#a0a0a0"/>
<rect x="336" y="0" width="1" height="20" fill="#a0a0a0"/>
<rect x="426" y="0" width="1" height="20" fill="#a0a0a0"/>
<rect x="488" y="0" width="1" height="20" fill="#a0a0a0"/>
<rect x="619" y="0" width="1" height="20" fill="#a0a0a0"/>
<rect x="676" y="0" width="1" height="20" fill="#a0a0a0"/>
<rect x="609" y="0" width="1" height="22" fill="#a0a0a0"/>
<rect x="610" y="0" width="1" height="22" fill="#fbfbfb"/>
<rect x="915" y="0" width="1" height="22" fill="#a0a0a0"/>
<rect x="916" y="0" width="1" height="22" fill="#fbfbfb"/>
<rect x="1176" y="0" width="1" height="22" fill="#a0a0a0"/>
<rect x="1177" y="0" width="1" height="22" fill="#fbfbfb"/>
<rect x="245" y="0" width="3" height="1" fill="#a4a4a4"/>
<rect x="245" y="2" width="3" height="1" fill="#a4a4a4"/>
<rect x="245" y="4" width="3" height="1" fill="#a4a4a4"/>
<rect x="245" y="6" width="3" height="1" fill="#a4a4a4"/>
<rect x="245" y="8" width="3" height="1" fill="#a4a4a4"/>
<rect x="245" y="10" width="3" height="1" fill="#a4a4a4"/>
<rect x="245" y="12" width="3" height="1" fill="#a4a4a4"/>
<rect x="245" y="14" width="3" height="1" fill="#a4a4a4"/>
<rect x="245" y="16" width="3" height="1" fill="#a4a4a4"/>
<rect x="245" y="18" width="3" height="1" fill="#a4a4a4"/>
<rect x="613" y="0" width="3" height="1" fill="#a4a4a4"/>
<rect x="613" y="2" width="3" height="1" fill="#a4a4a4"/>
<rect x="613" y="4" width="3" height="1" fill="#a4a4a4"/>
<rect x="613" y="6" width="3" height="1" fill="#a4a4a4"/>
<rect x="613" y="8" width="3" height="1" fill="#a4a4a4"/>
<rect x="613" y="10" width="3" height="1" fill="#a4a4a4"/>
<rect x="613" y="12" width="3" height="1" fill="#a4a4a4"/>
<rect x="613" y="14" width="3" height="1" fill="#a4a4a4"/>
<rect x="613" y="16" width="3" height="1" fill="#a4a4a4"/>
<rect x="613" y="18" width="3" height="1" fill="#a4a4a4"/>
<rect x="919" y="0" width="3" height="1" fill="#a4a4a4"/>
<rect x="919" y="2" width="3" height="1" fill="#a4a4a4"/>
<rect x="919" y="4" width="3" height="1" fill="#a4a4a4"/>
<rect x="919" y="6" width="3" height="1" fill="#a4a4a4"/>
<rect x="919" y="8" width="3" height="1" fill="#a4a4a4"/>
<rect x="919" y="10" width="3" height="1" fill="#a4a4a4"/>
<rect x="919" y="12" width="3" height="1" fill="#a4a4a4"/>
<rect x="919" y="14" width="3" height="1" fill="#a4a4a4"/>
<rect x="919" y="16" width="3" height="1" fill="#a4a4a4"/>
<rect x="919" y="18" width="3" height="1" fill="#a4a4a4"/>
<rect x="280" y="0" width="24" height="20" fill="url(#chk)"/>
<rect x="280" y="20" width="25" height="1" fill="#ffffff"/>
<rect x="304" y="0" width="1" height="21" fill="#ffffff"/>
<rect x="432" y="0" width="24" height="20" fill="url(#chk)"/>
<rect x="432" y="20" width="25" height="1" fill="#ffffff"/>
<rect x="456" y="0" width="1" height="21" fill="#ffffff"/>
<rect x="460" y="0" width="24" height="20" fill="url(#chk)"/>
<rect x="460" y="20" width="25" height="1" fill="#ffffff"/>
<rect x="484" y="0" width="1" height="21" fill="#ffffff"/>
<rect x="620" y="0" width="24" height="20" fill="url(#chk)"/>
<rect x="620" y="20" width="25" height="1" fill="#ffffff"/>
<rect x="644" y="0" width="1" height="21" fill="#ffffff"/>
<rect x="1066" y="0" width="23" height="20" fill="url(#chk)"/>
<rect x="1066" y="20" width="24" height="1" fill="#ffffff"/>
<rect x="1089" y="0" width="1" height="21" fill="#ffffff"/>
<rect x="279" y="0" width="1" height="20" fill="#8f8f8f"/>
<rect x="431" y="0" width="1" height="20" fill="#8f8f8f"/>
<rect x="459" y="0" width="1" height="20" fill="#8f8f8f"/>
<rect x="1065" y="0" width="1" height="20" fill="#8f8f8f"/>
</g>
<path d="M15.5,2.5 h8.5 l3,3 v10 h-11.5 z" fill="#ffffff" stroke="#6b6b6b" stroke-width="1"/><path d="M24,2.5 v3 h3" fill="#d8d8d8" stroke="#6b6b6b" stroke-width="1"/><rect x="17" y="4" width="2.5" height="1.5" fill="#707070"/><rect x="17" y="8" width="6" height="1" fill="#7a7a7a"/><rect x="17" y="10" width="6" height="1" fill="#7a7a7a"/><rect x="17" y="12" width="6" height="1" fill="#7a7a7a"/><path d="M23.5,9.0 h3 v4 h4 v3 h-4 v4 h-3 v-4 h-4 v-3 h4 z" fill="url(#gplus)" stroke="#008a00" stroke-width="1"/>
<path d="M37.5,3 V4 M34,4.5 H40 M35.5,5 L36,6.5 M38.5,5 L38,6.5 M34,7.5 H41 M34,9.5 H40 M37.5,7 V13.5 H35 M35.5,10.5 L34,12 M38.5,11 L39.5,12.5 M44.5,3 L42,4.5 M42.5,4 V10 Q42.5,12.5 41.2,14 M42,7.5 H49 M47.5,7.5 V14 M47.6,3 L48.8,5 M48.5,7.5 V12.5 L50.6,10.2 M50,4.5 H58 M54.5,4.5 V13.5 H51 M60.5,3 L61.5,4.5 M66.8,3 L65.8,4.5 M59.5,5 V10 M68.5,5 V10 M59.5,5.5 H68.5 M59.5,7.5 H68.5 M59.5,9.5 H68.5 M63.5,5 V14 M58,11.5 H70" fill="none" stroke="#000" stroke-width="1"/>
<path d="M87.6,3.2 L96.8,9.6 L97.6,11.6 L90.2,17.3 L82.2,11.8 L85.8,7.6 Z" fill="#c8a040" stroke="#9a6410" stroke-width="1" stroke-linejoin="round"/>
<path d="M87.9,4.2 L96,9.9 L91.8,14 L83.8,10.6 L86.5,7.7 Z" fill="url(#gold)"/>
<path d="M83.4,11.3 L91.5,14.9 L90.1,16.4 L83,12.3 Z" fill="#f6e2a0"/>
<path d="M92.2,14.6 L96.5,10.7 L96.9,11.6 L91,16.2 Z" fill="#e6dcb4"/>
<path d="M112.3,2.6 L119,2.4 L122.7,3.8 L122.7,11 L112.3,11 Z" fill="#1790f0"/>
<path d="M112.3,2.6 L115.4,4.6 L115.4,11 L112.3,11 Z" fill="#0a78e0"/>
<path d="M113,3 L115.4,5 V11 M115.4,5 H122.7" fill="none" stroke="#c8ecff" stroke-width="0.9"/>
<rect x="117" y="6.8" width="4.6" height="1.1" fill="#e8f8ff"/>
<path d="M112,17.5 Q110,17.3 110.4,15 Q110.7,13 112.7,13.2 Q113.2,11.3 115.6,11.6 Q117.2,10 119.6,10.6 Q121.2,10.4 121.8,12.3 Q123.4,11.4 125,12.6 Q126.3,14 125.8,16 Q125.3,17.5 123.5,17.5 Z" fill="url(#cloud)" stroke="#3a5590" stroke-width="1"/>
<circle cx="146" cy="9.8" r="7.3" fill="none" stroke="#7fa0e0" stroke-width="1.1" opacity="0.9"/>
<circle cx="146" cy="9.8" r="4.6" fill="none" stroke="#90b0e0" stroke-width="1.1" opacity="0.9"/>
<path d="M146,2.500000000000001 A7.3,7.3 0 0 1 146,17.1" fill="none" stroke="#5aa860" stroke-width="1.3"/>
<path d="M146,5.200000000000001 A4.6,4.6 0 0 1 146,14.4" fill="none" stroke="#7cc080" stroke-width="1.2"/>
<circle cx="146" cy="9.8" r="1.8" fill="#2550c8"/>
<rect x="146" y="9.8" width="1" height="7.6" fill="#20a020"/>
<path d="M165.5,9 H180.5 L172.6,17.6 Z" fill="#f8e060" stroke="#c89a20" stroke-width="1" stroke-linejoin="round"/>
<path d="M165.3,7.5 Q165,5.2 168.5,5 Q169.5,2 173,2.2 Q176.5,2.2 177,5 Q181,5.2 180.8,7.2 Q178,9.5 173,9.2 Q167.5,9.5 165.3,7.5 Z" fill="url(#hat)" stroke="#1d7fa0" stroke-width="1"/>
<circle cx="177.4" cy="14" r="4" fill="#d82010" stroke="#a81008" stroke-width="0.8"/>
<rect x="176" y="12.6" width="2.8" height="2.8" fill="#ffffff"/>
<path d="M190.5,2.6 V4 M187.5,4 V13 M195.5,4 V13 M187.5,4.5 H195.5 M187.5,6.5 H195.5 M187.5,9.5 H195.5 M187.5,12.5 H195.5 M199,4.5 H203.5 M198.5,7.5 H204 M200.8,8.5 L199.3,12.5 H203.6 M202.6,10.2 L203.6,12 M204,5.5 H208.5 V13 L207,12.5 M206.5,2.8 V8 Q206.2,11.5 203.6,14 M215.5,2.8 L216,4 M210.3,5.5 H221.6 M212.5,7 L211,9.4 M218.4,7 L220.6,9.4 M212.4,9.8 Q216,13 221.4,13.6 M217.8,9.8 Q214.5,13 210.4,13.6 M224.5,3 V8 M231.5,3 V8 M224.5,3.5 H231.5 M224.5,5.5 H231.5 M224.5,7.5 H231.5 M224.5,8.8 H232.5 V13 L229.5,12.6 M224.5,9 L222.5,10.8 M227.2,9.6 L223.3,13.5 M230.3,9.6 L226.4,13.7" fill="none" stroke="#000" stroke-width="1"/>
<g shape-rendering="crispEdges">
<rect x="259" y="4" width="1" height="14" fill="#555"/><path d="M257.5,6 L259.5,3.5 L261.5,6" fill="none" stroke="#555" stroke-width="1"/><rect x="257" y="15" width="14" height="1" fill="#555"/><path d="M269,13 L271.5,15.5 L269,18" fill="none" stroke="#555" stroke-width="1"/>
<rect x="287" y="4" width="1" height="14" fill="#555"/><path d="M285.5,6 L287.5,3.5 L289.5,6" fill="none" stroke="#555" stroke-width="1"/><rect x="285" y="15" width="14" height="1" fill="#555"/><path d="M297,13 L299.5,15.5 L297,18" fill="none" stroke="#555" stroke-width="1"/>
<rect x="315" y="4" width="1" height="14" fill="#555"/><path d="M313.5,6 L315.5,3.5 L317.5,6" fill="none" stroke="#555" stroke-width="1"/><rect x="313" y="15" width="14" height="1" fill="#555"/><path d="M325,13 L327.5,15.5 L325,18" fill="none" stroke="#555" stroke-width="1"/>
<rect x="439" y="4" width="1" height="14" fill="#555"/><path d="M437.5,6 L439.5,3.5 L441.5,6" fill="none" stroke="#555" stroke-width="1"/><rect x="437" y="15" width="14" height="1" fill="#555"/><path d="M449,13 L451.5,15.5 L449,18" fill="none" stroke="#555" stroke-width="1"/>
<rect x="467" y="4" width="1" height="14" fill="#555"/><path d="M465.5,6 L467.5,3.5 L469.5,6" fill="none" stroke="#555" stroke-width="1"/><rect x="465" y="15" width="14" height="1" fill="#555"/><path d="M477,13 L479.5,15.5 L477,18" fill="none" stroke="#555" stroke-width="1"/>
</g>
<g shape-rendering="crispEdges" fill="#00880a"><rect x="265" y="5" width="1" height="9"/><rect x="263" y="12" width="2" height="1"/><rect x="266" y="6" width="2" height="1"/></g>
<rect x="293" y="2" width="1" height="12" fill="#008a00" shape-rendering="crispEdges"/>
<rect x="291.5" y="4.5" width="4" height="7" fill="#3de03d" stroke="#008a00" stroke-width="1"/>
<path d="M314.5,12.5 Q317,8.5 320,7.5 Q322,7 324,9.5 L326,11" fill="none" stroke="#2e9e2e" stroke-width="1.2"/>
<line x1="354.6" y1="11.8" x2="359.6" y2="16.6" stroke="#9a6a0c" stroke-width="3.4" stroke-linecap="round"/>
<line x1="354.6" y1="11.8" x2="359.6" y2="16.6" stroke="url(#handle)" stroke-width="1.8" stroke-linecap="round"/>
<circle cx="351" cy="7.8" r="5.3" fill="url(#lens)" stroke="#2c72c4" stroke-width="1.2"/>
<rect x="348" y="7" width="6" height="2" fill="#3c80a8"/>
<rect x="350" y="4.8" width="2" height="6" fill="#3c80a8"/>
<line x1="382.6" y1="11.8" x2="387.6" y2="16.6" stroke="#9a6a0c" stroke-width="3.4" stroke-linecap="round"/>
<line x1="382.6" y1="11.8" x2="387.6" y2="16.6" stroke="url(#handle)" stroke-width="1.8" stroke-linecap="round"/>
<circle cx="379" cy="7.8" r="5.3" fill="url(#lens)" stroke="#2c72c4" stroke-width="1.2"/>
<rect x="376" y="7" width="6" height="2" fill="#3c80a8"/>
<rect x="401" y="2" width="7.5" height="7.5" rx="0.8" fill="url(#tbgreen)"/>
<rect x="402.3" y="5" width="5" height="3.4" fill="#ffffff"/>
<rect x="403.5" y="6" width="2.5" height="0.9" fill="#9ad29a"/>
<rect x="409" y="2" width="7.5" height="7.5" rx="0.8" fill="url(#tbblue)"/>
<rect x="410.3" y="5" width="5" height="3.4" fill="#ffffff"/>
<rect x="411.5" y="6" width="2.5" height="0.9" fill="#9ad29a"/>
<rect x="401" y="10" width="7.5" height="7.5" rx="0.8" fill="url(#tbblue)"/>
<rect x="402.3" y="13" width="5" height="3.4" fill="#ffffff"/>
<rect x="403.5" y="14" width="2.5" height="0.9" fill="#9ad29a"/>
<rect x="409" y="10" width="7.5" height="7.5" rx="0.8" fill="url(#tbgreen)"/>
<rect x="410.3" y="13" width="5" height="3.4" fill="#ffffff"/>
<rect x="411.5" y="14" width="2.5" height="0.9" fill="#9ad29a"/>
<path d="M444.2,6.2 L444.2,12.6 L448,9.5 Z" fill="#5cf05c" stroke="#009000" stroke-width="1" stroke-linejoin="round"/>
<rect x="473" y="4" width="1" height="10" fill="#1a6ea0" shape-rendering="crispEdges"/>
<path d="M474.5,9.5 L477,7.6 L477,9 L479,9 L479,10 L477,10 L477,11.4 Z" fill="#e86a10" stroke="#a03a00" stroke-width="0.6"/>
<path d="M498.5,2.5 h8.5 l3,3 v10 h-11.5 z" fill="#ffffff" stroke="#6b6b6b" stroke-width="1"/><path d="M507,2.5 v3 h3" fill="#d8d8d8" stroke="#6b6b6b" stroke-width="1"/><path d="M504.5,5 Q502.5,4.5 502.6,7 L502.4,12 Q502.2,14 500.5,13.5 M501,8 H504.5" fill="none" stroke="#505050" stroke-width="0.9"/><path d="M506.5,9.0 h3 v4 h4 v3 h-4 v4 h-3 v-4 h-4 v-3 h4 z" fill="url(#gplus)" stroke="#008a00" stroke-width="1"/>
<path d="M519.5,9 h5.6 l-2.8,3 z" fill="#000"/>
<path d="M558.7,9 h5.6 l-2.8,3 z" fill="#000"/>
<path d="M597.6,9 h5.6 l-2.8,3 z" fill="#000"/>
<path d="M903.5,9 h5.6 l-2.8,3 z" fill="#000"/>
<circle cx="544" cy="9.9" r="7.9" fill="#0a4fb0"/>
<circle cx="544" cy="9.9" r="7.0" fill="#2a86ea"/>
<path d="M538.5,6.5 A6.6,6.6 0 0 1 548.5,4.6" fill="none" stroke="#8cc8ff" stroke-width="1"/>
<circle cx="544" cy="9.9" r="5.6" fill="#ffffff"/>
<circle cx="548.60" cy="9.90" r="0.45" fill="#9a9a9a"/>
<circle cx="547.98" cy="12.20" r="0.45" fill="#9a9a9a"/>
<circle cx="546.30" cy="13.88" r="0.45" fill="#9a9a9a"/>
<circle cx="544.00" cy="14.50" r="0.45" fill="#9a9a9a"/>
<circle cx="541.70" cy="13.88" r="0.45" fill="#9a9a9a"/>
<circle cx="540.02" cy="12.20" r="0.45" fill="#9a9a9a"/>
<circle cx="539.40" cy="9.90" r="0.45" fill="#9a9a9a"/>
<circle cx="540.02" cy="7.60" r="0.45" fill="#9a9a9a"/>
<circle cx="541.70" cy="5.92" r="0.45" fill="#9a9a9a"/>
<circle cx="544.00" cy="5.30" r="0.45" fill="#9a9a9a"/>
<circle cx="546.30" cy="5.92" r="0.45" fill="#9a9a9a"/>
<circle cx="547.98" cy="7.60" r="0.45" fill="#9a9a9a"/>
<path d="M543.2,6.2 L544,9.7 L546.6,9.9" fill="none" stroke="#1a1a1a" stroke-width="1.1" stroke-linejoin="round"/>
<rect x="543" y="12.6" width="2" height="0.8" fill="#7ab0ff"/>
<rect x="575.5" y="3.5" width="15" height="13" fill="#ffffff" stroke="#3a78c8" stroke-width="1"/>
<rect x="576" y="4" width="14" height="1.8" fill="#5a98e0"/>
<rect x="576.5" y="4.2" width="5" height="0.8" fill="#c8e4ff"/>
<rect x="576" y="10.6" width="14" height="1" fill="#3a78c8"/>
<polyline points="577.2,9.3 579.4,9.3 581,8.4 582.8,7.5 584.5,8.5 586.4,8.5 588.4,7.6" fill="none" stroke="#a01e10" stroke-width="1.2"/>
<polyline points="578,14.4 580.4,13.3 582.4,14.3 584,13.1 585.8,12.2 587.2,13.4 588.4,14.5" fill="none" stroke="#188a28" stroke-width="1.2"/>
<path d="M627.3,3 L627.3,14.2 L629.8,11.6 L632,16.8 L634,16 L631.8,11 L635.2,11 Z" fill="#444" stroke="#333" stroke-width="0.5" stroke-linejoin="round"/>
<g shape-rendering="crispEdges" fill="#444"><rect x="652" y="10" width="6" height="1"/><rect x="661" y="10" width="6" height="1"/><rect x="659" y="3" width="1" height="6"/><rect x="659" y="12" width="1" height="6"/><rect x="659" y="10" width="1" height="1" fill="#8a8a70"/></g>
<rect x="693" y="4" width="1" height="13" fill="#444" shape-rendering="crispEdges"/>
<rect x="716" y="10" width="12" height="1" fill="#444" shape-rendering="crispEdges"/>
<line x1="744" y1="17" x2="756" y2="4.8" stroke="#555" stroke-width="1.1"/>
<g stroke="#3a3a3a" stroke-width="1.1" fill="none" stroke-linecap="round"><path d="M770,11.5 L777.8,4.2 M775,16.7 L783.6,8.4"/><path d="M772.4,9.4 Q771.8,13 772.6,16.6 M775.6,8.2 Q775,11 775.8,13.6 M778.6,6 Q778,9.5 778.8,13 M781.6,2 Q781.2,6 782.2,9.2"/></g>
<text x="780.6" y="19.2" font-family="Liberation Sans, sans-serif" font-size="6.6" font-weight="bold" fill="#333">E</text>
<g fill="#555" shape-rendering="crispEdges">
<rect x="799" y="3" width="1" height="1"/>
<rect x="801" y="3" width="1" height="1"/>
<rect x="803" y="3" width="1" height="1"/>
<rect x="805" y="3" width="1" height="1"/>
<rect x="807" y="3" width="1" height="1"/>
<rect x="809" y="3" width="1" height="1"/>
<rect x="811" y="3" width="1" height="1"/>
<rect x="799" y="6" width="1" height="1"/>
<rect x="801" y="6" width="1" height="1"/>
<rect x="803" y="6" width="1" height="1"/>
<rect x="805" y="6" width="1" height="1"/>
<rect x="807" y="6" width="1" height="1"/>
<rect x="809" y="6" width="1" height="1"/>
<rect x="811" y="6" width="1" height="1"/>
<rect x="799" y="10" width="1" height="1"/>
<rect x="801" y="10" width="1" height="1"/>
<rect x="803" y="10" width="1" height="1"/>
<rect x="805" y="10" width="1" height="1"/>
<rect x="807" y="10" width="1" height="1"/>
<rect x="809" y="10" width="1" height="1"/>
<rect x="811" y="10" width="1" height="1"/>
<rect x="799" y="14" width="1" height="1"/>
<rect x="801" y="14" width="1" height="1"/>
<rect x="803" y="14" width="1" height="1"/>
<rect x="805" y="14" width="1" height="1"/>
<rect x="807" y="14" width="1" height="1"/>
</g>
<text x="807.2" y="19.2" font-family="Liberation Sans, sans-serif" font-size="6.6" font-weight="bold" fill="#333">F</text>
<text x="829.6" y="14.6" font-family="Liberation Sans, sans-serif" font-size="11.2" font-weight="bold" fill="#555">A</text>
<rect x="855.5" y="3.5" width="12" height="13" fill="none" stroke="#555" stroke-width="1" stroke-dasharray="1,1" shape-rendering="crispEdges"/>
<text x="857.6" y="14.4" font-family="Liberation Sans, sans-serif" font-size="11" font-weight="bold" fill="#555">T</text>
<rect x="855" y="3" width="2" height="2" fill="#555"/>
<path d="M886,4 L888.6,6.6 L886,9.2 L883.4,6.6 Z" fill="#555"/>
<path d="M894,11 L896.6,13.6 L894,16.2 L891.4,13.6 Z" fill="#555"/>
<path d="M885.5,10 L888.5,13 L893,8" fill="none" stroke="#555" stroke-width="1.5"/>
<text transform="translate(930.5,14) scale(0.975,1)" font-family="Liberation Sans, sans-serif" font-size="9.9" fill="#3c3c3c" style="text-rendering:geometricPrecision">M1</text>
<text transform="translate(958.6,14) scale(0.975,1)" font-family="Liberation Sans, sans-serif" font-size="9.9" fill="#3c3c3c" style="text-rendering:geometricPrecision">M5</text>
<text transform="translate(984.4,14) scale(0.975,1)" font-family="Liberation Sans, sans-serif" font-size="9.9" fill="#3c3c3c" style="text-rendering:geometricPrecision">M15</text>
<text transform="translate(1012.3,14) scale(0.975,1)" font-family="Liberation Sans, sans-serif" font-size="9.9" fill="#3c3c3c" style="text-rendering:geometricPrecision">M30</text>
<text transform="translate(1043.5,14) scale(0.975,1)" font-family="Liberation Sans, sans-serif" font-size="9.9" fill="#3c3c3c" style="text-rendering:geometricPrecision">H1</text>
<text transform="translate(1070.6,14) scale(0.975,1)" font-family="Liberation Sans, sans-serif" font-size="9.9" fill="#3c3c3c" style="text-rendering:geometricPrecision">H4</text>
<text transform="translate(1099.3,14) scale(0.975,1)" font-family="Liberation Sans, sans-serif" font-size="9.9" fill="#3c3c3c" style="text-rendering:geometricPrecision">D1</text>
<text transform="translate(1127.2,14) scale(0.975,1)" font-family="Liberation Sans, sans-serif" font-size="9.9" fill="#3c3c3c" style="text-rendering:geometricPrecision">W1</text>
<text transform="translate(1153.5,14) scale(0.975,1)" font-family="Liberation Sans, sans-serif" font-size="9.9" fill="#3c3c3c" style="text-rendering:geometricPrecision">MN</text>
<circle cx="1646.6" cy="7.4" r="3.7" fill="#f4f6ff" stroke="#2a5bd7" stroke-width="1.4"/>
<line x1="1643.6" y1="10.6" x2="1639.8" y2="14.6" stroke="#2a5bd7" stroke-width="2.2" stroke-linecap="round"/>
<path d="M1669,7.5 Q1663.3,7.7 1663.3,12.3 Q1663.3,16 1667.2,16.2 L1666.5,18.6 L1669.6,16.2 Q1674.8,16 1674.8,12 Q1674.6,7.5 1669,7.5 Z" fill="#e2e4ee" stroke="#9a9a9a" stroke-width="0.9"/>
<circle cx="1677.6" cy="7.4" r="8.3" fill="url(#badge)"/>
<text x="1673.9" y="11.8" font-family="Liberation Serif, serif" font-size="12" font-weight="bold" fill="#ffffff">1</text>
</svg>
</body></html>
